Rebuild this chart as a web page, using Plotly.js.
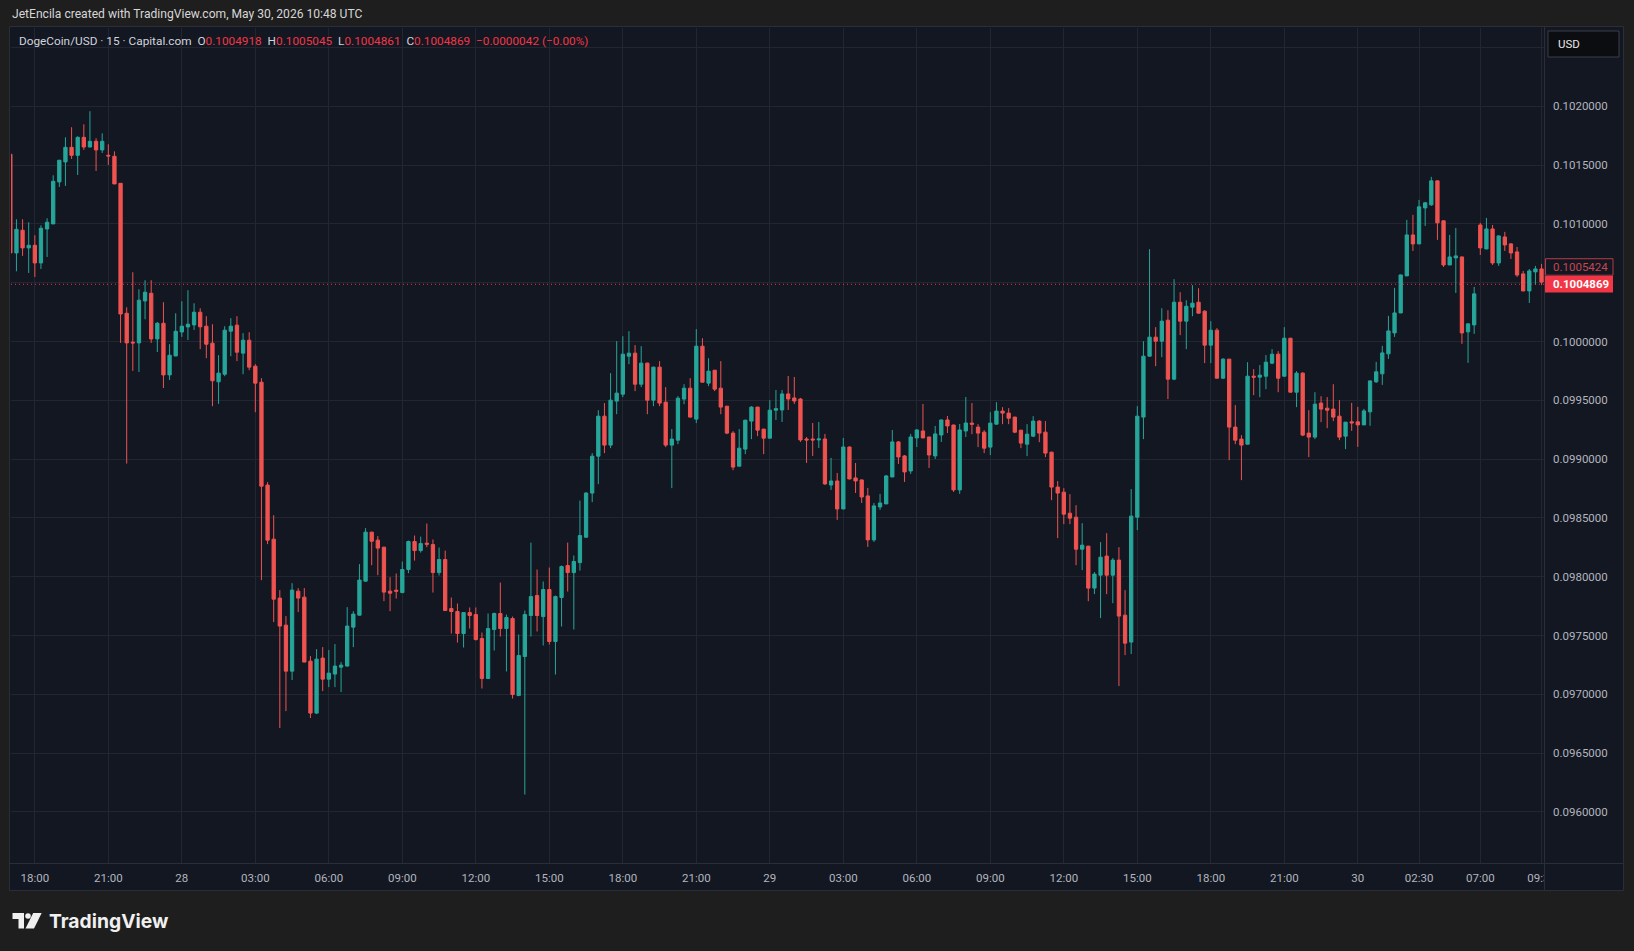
<!DOCTYPE html>
<html>
<head>
<meta charset="utf-8">
<script src="https://cdn.plot.ly/plotly-3.0.1.min.js"></script>
<style>
html,body{margin:0;padding:0;background:#1e1e1e;overflow:hidden;}
#chart{width:1634px;height:951px;}
</style>
</head>
<body>
<div id="chart"></div>
<script>
// ---- data: 15-minute DogeCoin/USD candles (Capital.com) ----
// trading sessions shown (UTC start, number of 15-min candles)
const sessions = [["2026-05-27T17:00", 240], ["2026-05-30T07:00", 12]];

const openP = [
0.101592,0.100753,0.100946,0.100796,0.100818,0.100668,0.100957,0.101000,0.101357,0.101527,
0.101651,0.101583,0.101736,0.101654,0.101702,0.101629,0.101583,0.101575,0.101345,0.100240,
0.099994,0.099988,0.100345,0.100410,0.100022,0.100155,0.099716,0.099877,0.100081,0.100124,
0.100141,0.100249,0.100130,0.099986,0.099657,0.099722,0.100088,0.100139,0.099901,0.100011,
0.099790,0.099654,0.098779,0.098319,0.097818,0.097588,0.097197,0.097877,0.097826,0.097282,
0.096840,0.097308,0.097129,0.097172,0.097231,0.097240,0.097571,0.097673,0.097962,0.098379,
0.098311,0.098251,0.097877,0.097885,0.097865,0.098061,0.098299,0.098222,0.098285,0.098273,
0.098035,0.098146,0.097729,0.097704,0.097517,0.097695,0.097678,0.097474,0.097134,0.097551,
0.097687,0.097559,0.097644,0.096989,0.097321,0.097670,0.097840,0.097661,0.097891,0.097449,
0.097823,0.098095,0.098035,0.098120,0.098336,0.098711,0.099025,0.099365,0.099119,0.099493,
0.099552,0.099875,0.099901,0.099637,0.099816,0.099501,0.099782,0.099484,0.099119,0.099161,
0.099510,0.099603,0.099340,0.099960,0.099646,0.099756,0.099603,0.099450,0.099221,0.098940,
0.099085,0.099323,0.099442,0.099255,0.099178,0.099416,0.099418,0.099554,0.099520,0.099511,
0.099171,0.099171,0.099163,0.099171,0.098780,0.098814,0.098576,0.099103,0.098840,0.098823,
0.098687,0.098313,0.098593,0.098619,0.098848,0.099146,0.099027,0.098899,0.099180,0.099239,
0.099188,0.099027,0.099205,0.099333,0.099290,0.098738,0.099239,0.099306,0.099272,0.099229,
0.099102,0.099297,0.099408,0.099391,0.099357,0.099246,0.099127,0.099195,0.099323,0.099229,
0.099059,0.098762,0.098719,0.098540,0.098506,0.098234,0.098260,0.097903,0.098013,0.098175,
0.098013,0.098141,0.097673,0.097444,0.098506,0.099357,0.099875,0.100037,0.100003,0.100181,
0.099680,0.100334,0.100173,0.100292,0.100334,0.100258,0.099969,0.100096,0.099688,0.099850,
0.099272,0.099170,0.099127,0.099705,0.099697,0.099705,0.099816,0.099892,0.099705,0.100028,
0.099569,0.099731,0.099221,0.099187,0.099476,0.099433,0.099425,0.099365,0.099195,0.099317,
0.099317,0.099291,0.099402,0.099657,0.099725,0.099895,0.100073,0.100243,0.100558,0.100906,
0.100830,0.101136,0.101162,0.101366,0.101026,0.100651,0.100711,0.100719,0.100082,0.100141,
0.100991,0.100787,0.100957,0.100668,0.100889,0.100830,0.100762,0.100575,0.100430,0.100592,
0.100617,0.1004918];

const highP = [
0.101612,0.101039,0.101039,0.101014,0.100903,0.100988,0.101048,0.101413,0.101545,0.101736,
0.101822,0.101745,0.101847,0.101958,0.101728,0.101770,0.101677,0.101617,0.101348,0.100291,
0.100589,0.100444,0.100521,0.100521,0.100166,0.100334,0.099977,0.100240,0.100342,0.100436,
0.100325,0.100283,0.100215,0.100147,0.099884,0.100130,0.100198,0.100215,0.100071,0.100079,
0.099807,0.099688,0.098804,0.098523,0.097886,0.097665,0.097945,0.097903,0.097903,0.097325,
0.097384,0.097401,0.097376,0.097427,0.097274,0.097741,0.097707,0.098107,0.098413,0.098382,
0.098345,0.098254,0.097996,0.098027,0.098129,0.098307,0.098350,0.098341,0.098452,0.098316,
0.098248,0.098222,0.097823,0.097772,0.097697,0.097738,0.097738,0.097525,0.097687,0.097695,
0.097950,0.097678,0.097661,0.097508,0.097712,0.098290,0.098061,0.097959,0.098078,0.097840,
0.098095,0.098290,0.098180,0.098647,0.098719,0.099051,0.099416,0.099476,0.099731,0.100003,
0.100045,0.100088,0.099969,0.099960,0.099820,0.099785,0.099833,0.099612,0.099255,0.099535,
0.099637,0.099688,0.100105,0.100028,0.099858,0.099758,0.099833,0.099452,0.099238,0.099255,
0.099334,0.099450,0.099445,0.099257,0.099501,0.099588,0.099588,0.099707,0.099698,0.099520,
0.099188,0.099307,0.099316,0.099214,0.099010,0.098882,0.099180,0.099106,0.098967,0.098825,
0.098755,0.098627,0.098704,0.098865,0.099248,0.099154,0.099035,0.099214,0.099256,0.099469,
0.099190,0.099282,0.099335,0.099367,0.099292,0.099299,0.099528,0.099476,0.099297,0.099246,
0.099399,0.099484,0.099442,0.099433,0.099360,0.099248,0.099297,0.099365,0.099331,0.099323,
0.099062,0.098813,0.098753,0.098702,0.098608,0.098455,0.098262,0.098039,0.098294,0.098370,
0.098158,0.098251,0.097886,0.098745,0.099450,0.100003,0.100785,0.100122,0.100283,0.100266,
0.100530,0.100419,0.100351,0.100479,0.100453,0.100266,0.100173,0.100113,0.099858,0.099852,
0.099459,0.099204,0.099824,0.099765,0.099799,0.099884,0.099935,0.099918,0.100122,0.100031,
0.099748,0.099739,0.099416,0.099569,0.099535,0.099527,0.099637,0.099501,0.099316,0.099478,
0.099444,0.099427,0.099668,0.099827,0.099963,0.100218,0.100456,0.100569,0.101034,0.101077,
0.101204,0.101187,0.101400,0.101369,0.101029,0.100906,0.100966,0.100722,0.100152,0.100464,
0.101009,0.101051,0.100991,0.100900,0.100932,0.100838,0.100804,0.100600,0.100617,0.100643,
0.100660,0.1005045];

const lowP = [
0.100691,0.100597,0.100728,0.100583,0.100549,0.100617,0.100719,0.100998,0.101314,0.101323,
0.101552,0.101416,0.101629,0.101650,0.101450,0.101603,0.101501,0.101338,0.099988,0.098962,
0.099750,0.099741,0.100189,0.099988,0.099911,0.099605,0.099673,0.099875,0.100039,0.100013,
0.100098,0.099935,0.099858,0.099450,0.099470,0.099705,0.099875,0.099833,0.099722,0.099756,
0.099399,0.097971,0.098277,0.097614,0.096713,0.096857,0.097121,0.097699,0.097274,0.096798,
0.096832,0.097027,0.097061,0.097061,0.097019,0.097238,0.097401,0.097670,0.097960,0.098098,
0.098013,0.097792,0.097707,0.097814,0.097860,0.098030,0.098137,0.098205,0.098251,0.097865,
0.098010,0.097710,0.097517,0.097440,0.097398,0.097559,0.097457,0.097049,0.097130,0.097372,
0.097491,0.097194,0.096964,0.096985,0.096148,0.097491,0.097534,0.097415,0.097423,0.097168,
0.097576,0.097874,0.097551,0.098052,0.098330,0.098634,0.098787,0.099051,0.099093,0.099382,
0.099527,0.099807,0.099578,0.099612,0.099382,0.099450,0.099450,0.099102,0.098753,0.099127,
0.099467,0.099355,0.099306,0.099652,0.099620,0.099578,0.099382,0.099212,0.098906,0.098938,
0.099042,0.099170,0.099195,0.099042,0.099176,0.099333,0.099316,0.099418,0.099469,0.099146,
0.098967,0.099027,0.099095,0.098780,0.098738,0.098483,0.098574,0.098829,0.098712,0.098627,
0.098253,0.098296,0.098568,0.098617,0.098846,0.098959,0.098806,0.098874,0.099103,0.099178,
0.098925,0.099001,0.099146,0.099222,0.098721,0.098704,0.099188,0.099212,0.099102,0.099051,
0.099034,0.099295,0.099297,0.099297,0.099221,0.099093,0.099025,0.099187,0.099144,0.099017,
0.098651,0.098328,0.098447,0.098447,0.098098,0.098056,0.097792,0.097852,0.097648,0.097852,
0.097775,0.097070,0.097333,0.097342,0.098396,0.099170,0.099873,0.099790,0.099867,0.099510,
0.099671,0.100054,0.099935,0.100215,0.100238,0.099816,0.099816,0.099686,0.099680,0.098991,
0.099127,0.098821,0.099125,0.099544,0.099527,0.099595,0.099807,0.099569,0.099703,0.099567,
0.099442,0.099195,0.099017,0.099170,0.099314,0.099263,0.099323,0.099161,0.099085,0.099240,
0.099104,0.099289,0.099283,0.099648,0.099631,0.099852,0.100039,0.100240,0.100556,0.100770,
0.100828,0.100983,0.101153,0.100864,0.100634,0.100649,0.100413,0.099980,0.099818,0.100065,
0.100736,0.100785,0.100651,0.100643,0.100770,0.100702,0.100549,0.100428,0.100328,0.100481,
0.100481,0.1004861];

const closeP = [
0.100753,0.100954,0.100796,0.100818,0.100668,0.100963,0.101014,0.101362,0.101541,0.101651,
0.101583,0.101736,0.101654,0.101702,0.101629,0.101702,0.101578,0.101340,0.100234,0.099988,
0.099988,0.100351,0.100419,0.100022,0.100155,0.099716,0.099883,0.100087,0.100130,0.100147,
0.100249,0.100125,0.099977,0.099666,0.099731,0.100096,0.100130,0.099909,0.100011,0.099782,
0.099646,0.098770,0.098311,0.097809,0.097580,0.097197,0.097886,0.097818,0.097274,0.096840,
0.097299,0.097129,0.097180,0.097240,0.097248,0.097580,0.097682,0.097971,0.098379,0.098302,
0.098243,0.097869,0.097860,0.097877,0.098061,0.098299,0.098222,0.098282,0.098276,0.098035,
0.098146,0.097712,0.097704,0.097517,0.097695,0.097670,0.097466,0.097134,0.097559,0.097687,
0.097559,0.097653,0.096998,0.097330,0.097678,0.097831,0.097670,0.097891,0.097449,0.097831,
0.098086,0.098035,0.098129,0.098350,0.098711,0.099025,0.099365,0.099119,0.099501,0.099561,
0.099892,0.099901,0.099637,0.099816,0.099501,0.099782,0.099476,0.099119,0.099170,0.099518,
0.099603,0.099357,0.099960,0.099654,0.099748,0.099595,0.099442,0.099221,0.098932,0.099093,
0.099331,0.099442,0.099246,0.099178,0.099416,0.099429,0.099554,0.099511,0.099494,0.099163,
0.099163,0.099163,0.099171,0.098789,0.098814,0.098576,0.099103,0.098831,0.098814,0.098678,
0.098313,0.098602,0.098627,0.098857,0.099146,0.099018,0.098891,0.099188,0.099248,0.099180,
0.099035,0.099214,0.099333,0.099282,0.098738,0.099248,0.099307,0.099297,0.099221,0.099093,
0.099306,0.099408,0.099391,0.099348,0.099229,0.099136,0.099212,0.099323,0.099221,0.099051,
0.098762,0.098711,0.098532,0.098498,0.098234,0.098268,0.097903,0.098022,0.098166,0.098013,
0.098141,0.097665,0.097435,0.098515,0.099365,0.099875,0.100037,0.100003,0.100173,0.099680,
0.100334,0.100173,0.100300,0.100326,0.100241,0.099969,0.100096,0.099688,0.099850,0.099272,
0.099161,0.099119,0.099705,0.099697,0.099714,0.099824,0.099892,0.099688,0.100028,0.099569,
0.099731,0.099204,0.099187,0.099467,0.099425,0.099416,0.099357,0.099187,0.099314,0.099308,
0.099291,0.099410,0.099665,0.099742,0.099903,0.100090,0.100243,0.100566,0.100906,0.100830,
0.101145,0.101179,0.101366,0.101009,0.100651,0.100719,0.100728,0.100073,0.100150,0.100405,
0.100796,0.100957,0.100668,0.100898,0.100821,0.100753,0.100566,0.100430,0.100600,0.100617,
0.100505,0.1004869];

// time-axis tick labels
const tickTimes = ["05-27 18:00","05-27 21:00","05-28 00:00","05-28 03:00","05-28 06:00","05-28 09:00",
  "05-28 12:00","05-28 15:00","05-28 18:00","05-28 21:00","05-29 00:00","05-29 03:00","05-29 06:00",
  "05-29 09:00","05-29 12:00","05-29 15:00","05-29 18:00","05-29 21:00","05-30 00:00","05-30 02:30",
  "05-30 07:00","05-30 09:30"];
const tickText = ["18:00","21:00","28","03:00","06:00","09:00","12:00","15:00","18:00","21:00","29",
  "03:00","06:00","09:00","12:00","15:00","18:00","21:00","30","02:30","07:00","09:30"];

// price-axis ticks
const priceTicks = [0.0960,0.0965,0.0970,0.0975,0.0980,0.0985,0.0990,0.0995,0.1000,0.1005,0.1010,0.1015,0.1020,0.1025];
const priceTickText = ["0.0960000","0.0965000","0.0970000","0.0975000","0.0980000","0.0985000","0.0990000",
  "0.0995000","0.1000000","0.1005000","0.1010000","0.1015000","0.1020000",""];

const lastPrice = 0.1004869;
const markPrice = 0.1005424;

// ---- build category labels for each candle ----
function pad(n){return (n<10?'0':'')+n;}
const times = [];
sessions.forEach(([start, count]) => {
  const t0 = Date.parse(start + ':00Z');
  for (let i = 0; i < count; i++) {
    const d = new Date(t0 + i * 15 * 60000);
    times.push(pad(d.getUTCMonth()+1)+'-'+pad(d.getUTCDate())+' '+pad(d.getUTCHours())+':'+pad(d.getUTCMinutes()));
  }
});

// ---- layout geometry helpers (pixel -> paper) ----
const W = 1634, H = 951, ML = 11, MR = 90, MT = 28, MB = 88;
const PW = W - ML - MR, PH = H - MT - MB;
const px = x => (x - ML) / PW;
const py = y => (H - MB - y) / PH;

const PANEL = '#131722', BORDER = '#2a2e39', GRID = '#222631', TXT = '#b2b5be';
const UP = '#26a69a', DOWN = '#ef5350', RED = '#f23645';
const FONT = 'Roboto, "Noto Sans", sans-serif';

const trace = {
  type: 'candlestick',
  x: times, open: openP, high: highP, low: lowP, close: closeP,
  increasing: {line: {color: UP, width: 1}, fillcolor: UP},
  decreasing: {line: {color: DOWN, width: 1}, fillcolor: DOWN},
  whiskerwidth: 0,
  hoverinfo: 'skip',
  showlegend: false
};

function pathFrom(points){
  return 'M' + points.map(p => px(p[0]) + ',' + py(p[1])).join(' L') + ' Z';
}

const shapes = [
  // chart panel
  {type:'rect', xref:'paper', yref:'paper', x0:px(9.5), x1:px(1623.5), y0:py(890.5), y1:py(26.5),
   fillcolor:PANEL, line:{color:BORDER, width:1}, layer:'below'},
  // current price dotted line
  {type:'line', xref:'paper', yref:'y', x0:0, x1:1, y0:lastPrice, y1:lastPrice,
   line:{color:RED, width:1, dash:'1px,3px'}, layer:'above'},
  // corner cover (time axis under price scale)
  {type:'rect', xref:'paper', yref:'paper', x0:px(1545), x1:px(1622.5), y0:py(889.8), y1:py(864),
   fillcolor:PANEL, line:{width:0}, layer:'above'},
  // separators
  {type:'line', xref:'paper', yref:'paper', x0:px(9.5), x1:px(1623.5), y0:py(863.5), y1:py(863.5),
   line:{color:BORDER, width:1}, layer:'above'},
  {type:'line', xref:'paper', yref:'paper', x0:px(1544.5), x1:px(1544.5), y0:py(890.5), y1:py(26.5),
   line:{color:BORDER, width:1}, layer:'above'},
  // USD box
  {type:'rect', xref:'paper', yref:'paper', x0:px(1548), x1:px(1619), y0:py(57), y1:py(31),
   fillcolor:'#0c0d10', line:{color:'#3b3e46', width:1}, layer:'above'},
  // price labels on the scale
  {type:'rect', xref:'paper', yref:'y', ysizemode:'pixel', yanchor:markPrice, y0:2.5, y1:19,
   x0:px(1545.5), x1:px(1613), fillcolor:PANEL, line:{color:'#b83a44', width:1}, layer:'above'},
  {type:'rect', xref:'paper', yref:'y', ysizemode:'pixel', yanchor:lastPrice, y0:-8.3, y1:8.3,
   x0:px(1545), x1:px(1613), fillcolor:RED, line:{width:0}, layer:'above'},
  // TradingView logo
  {type:'path', xref:'paper', yref:'paper', path: pathFrom([[12.5,913],[24,913],[24,928.5],[18.5,928.5],[18.5,919],[12.5,919]]),
   fillcolor:'#f0f0f0', line:{width:0}, layer:'above'},
  {type:'circle', xref:'paper', yref:'paper', x0:px(25.2), x1:px(30.8), y0:py(918.8), y1:py(913.2),
   fillcolor:'#f0f0f0', line:{width:0}, layer:'above'},
  {type:'path', xref:'paper', yref:'paper', path: pathFrom([[25.5,928.5],[33.2,913],[41.7,913],[34,928.5]]),
   fillcolor:'#f0f0f0', line:{width:0}, layer:'above'}
];

const redSpan = s => '<span style="color:' + RED + '">' + s + '</span>';
const sp = '\u00a0\u00a0';
const headerText = 'DogeCoin/USD \u00b7 15 \u00b7 Capital.com' + sp +
  'O' + redSpan('0.1004918') + sp + 'H' + redSpan('0.1005045') + sp +
  'L' + redSpan('0.1004861') + sp + 'C' + redSpan('0.1004869') + sp +
  redSpan('\u22120.0000042 (\u22120.00%)');

const annotations = [
  {xref:'paper', yref:'paper', x:px(10), y:py(14.5), xanchor:'left', yanchor:'middle', showarrow:false,
   text:'JetEncila created with TradingView.com, May 30, 2026 10:48 UTC',
   font:{family:FONT, size:12.1, color:'#d6d6d6'}},
  {xref:'paper', yref:'paper', x:px(17), y:py(41.5), xanchor:'left', yanchor:'middle', showarrow:false,
   text:headerText, font:{family:FONT, size:11.8, color:'#d1d4dc'}},
  {xref:'paper', yref:'paper', x:px(1556), y:py(44), xanchor:'left', yanchor:'middle', showarrow:false,
   text:'USD', font:{family:FONT, size:11.5, color:'#e8e8e8'}},
  {xref:'paper', yref:'y', x:px(1551), y:markPrice, yshift:10.7, xanchor:'left', yanchor:'middle', showarrow:false,
   text:markPrice.toFixed(7), font:{family:FONT, size:11.5, color:'#c8464f'}},
  {xref:'paper', yref:'y', x:px(1551), y:lastPrice, xanchor:'left', yanchor:'middle', showarrow:false,
   text:'<b>' + lastPrice.toFixed(7) + '</b>', font:{family:FONT, size:11.5, color:'#ffffff'}},
  {xref:'paper', yref:'paper', x:px(47), y:py(921), xanchor:'left', yanchor:'middle', showarrow:false,
   text:'<b>TradingView</b>', font:{family:'Inter, Lato, sans-serif', size:19.3, color:'#f0f0f0'}}
];

const layout = {
  width: W, height: H,
  margin: {l: ML, r: MR, t: MT, b: MB, pad: 0},
  paper_bgcolor: '#1e1e1e',
  plot_bgcolor: PANEL,
  boxgap: 0.23,
  hovermode: false,
  showlegend: false,
  dragmode: false,
  xaxis: {
    type: 'category',
    range: [0.11, 250.4],
    rangeslider: {visible: false},
    tickmode: 'array', tickvals: tickTimes, ticktext: tickText,
    showgrid: true, gridcolor: GRID, gridwidth: 1,
    ticks: '', ticklabelstandoff: 6,
    tickfont: {family: FONT, size: 11.5, color: TXT},
    showline: false, zeroline: false, fixedrange: true
  },
  yaxis: {
    side: 'right',
    range: [0.0955655, 0.1026658],
    tickmode: 'array', tickvals: priceTicks, ticktext: priceTickText,
    showgrid: true, gridcolor: GRID, gridwidth: 1,
    ticks: '', ticklabelstandoff: 8,
    tickfont: {family: FONT, size: 11.5, color: TXT},
    showline: false, zeroline: false, fixedrange: true
  },
  shapes: shapes,
  annotations: annotations
};

Plotly.newPlot('chart', [trace], layout, {displayModeBar: false, staticPlot: true});
</script>
</body>
</html>
